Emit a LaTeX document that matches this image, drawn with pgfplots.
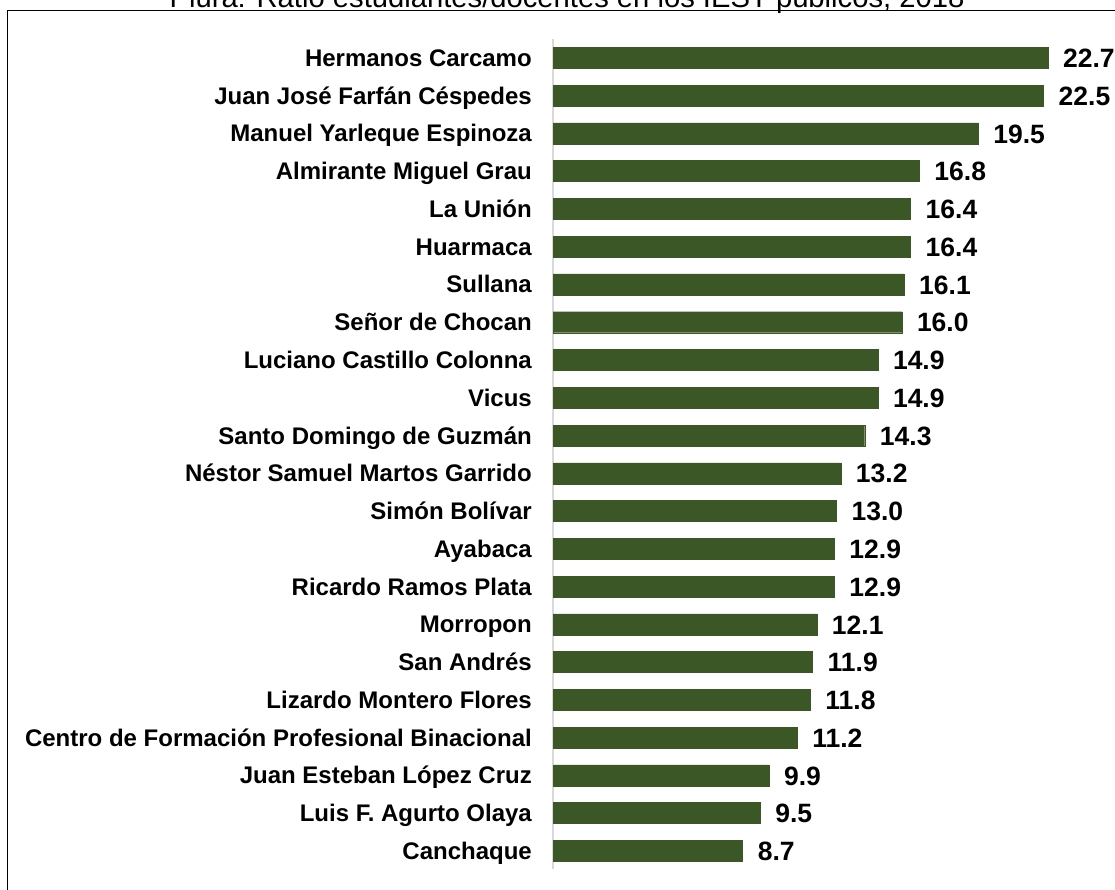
\documentclass[border=0pt]{standalone}
\usepackage{fontspec}
\setmainfont{Liberation Sans}
\usepackage{pgfplots}
\pgfplotsset{compat=1.18}
\definecolor{barg}{RGB}{60,87,38}
\definecolor{axgray}{RGB}{217,217,217}
\begin{document}
\begin{tikzpicture}[x=1pt,y=1pt]
\begin{axis}[
  at={(553pt,21pt)}, anchor=south west,
  xbar, scale only axis,
  width=545pt, height=829.6pt,
  xmin=0, xmax=25, ymin=-0.48, ymax=21.49,
  axis x line=none, axis y line=left,
  axis line style={-, draw=axgray, line width=1.5pt},
  ytick={0,...,21},
  yticklabels={Canchaque,Luis F. Agurto Olaya,Juan Esteban López Cruz,Centro de Formación Profesional Binacional,Lizardo Montero Flores,San Andrés,Morropon,Ricardo Ramos Plata,Ayabaca,Simón Bolívar,Néstor Samuel Martos Garrido,Santo Domingo de Guzmán,Vicus,Luciano Castillo Colonna,Señor de Chocan,Sullana,Huarmaca,La Unión,Almirante Miguel Grau,Manuel Yarleque Espinoza,Juan José Farfán Céspedes,Hermanos Carcamo},
  major tick length=0pt,
  ytick style={draw=none},
  yticklabel style={font=\bfseries\fontsize{24}{25}\selectfont, inner sep=0pt, anchor=base east, xshift=-21pt, yshift=-8.5pt},
  bar width=21pt,
  clip=false,
  point meta=x,
  /pgf/number format/assume math mode=true,
  nodes near coords={\pgfmathprintnumber[fixed,fixed zerofill,precision=1,assume math mode=true]{\pgfplotspointmeta}},
  every node near coord/.append style={font=\bfseries\fontsize{26.5}{27}\selectfont, inner sep=0pt, anchor=base west, xshift=15pt, yshift=-9.7pt, text=black},
]
\addplot[fill=barg, draw=barg] coordinates {
(8.7,0) (9.5,1) (9.9,2) (11.2,3) (11.8,4) (11.9,5) (12.1,6) (12.9,7) (12.9,8) (13.0,9) (13.2,10) (14.3,11) (14.9,12) (14.9,13) (16.0,14) (16.1,15) (16.4,16) (16.4,17) (16.8,18) (19.5,19) (22.5,20) (22.7,21)
};
\end{axis}
\draw[line width=1.5pt, black] (7.5pt,-30pt) -- (7.5pt,879.5pt) -- (1140pt,879.5pt);
\node[anchor=base, inner sep=0pt, font=\fontsize{29.2}{30}\selectfont, text=black] at (567pt,882.5pt) {Piura: Ratio estudiantes/docentes en los IEST públicos, 2018};
\pgfresetboundingbox
\path[use as bounding box] (0,0) rectangle (1115pt,890pt);
\end{tikzpicture}
\end{document}
